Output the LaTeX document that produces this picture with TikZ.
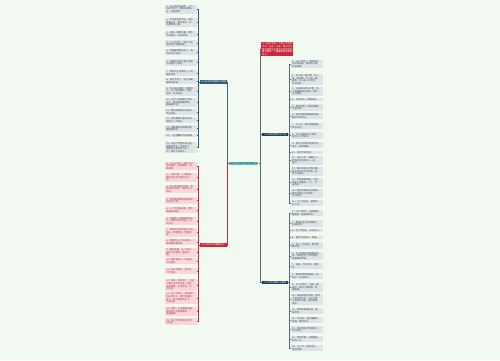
\documentclass[tikz,border=0pt]{standalone}
\usepackage{fontspec}
\newfontfamily\cjk{Noto Sans CJK SC}
\XeTeXlinebreaklocale "zh"
\XeTeXlinebreakskip=0pt plus 1pt
\newcommand\tinycjk{\cjk\fontsize{2.3}{2.6}\selectfont}
\definecolor{bg}{HTML}{F1F9F1}
\definecolor{leafgray}{HTML}{DCE4E8}
\definecolor{leaftext}{HTML}{3E4A54}
\definecolor{leafpink}{HTML}{F8D6DA}
\definecolor{pinktext}{HTML}{A23A44}
\definecolor{teal}{HTML}{5CC6C8}
\definecolor{darkblue}{HTML}{2D5C78}
\definecolor{navy}{HTML}{1E3A55}
\definecolor{redc}{HTML}{C9283A}
\definecolor{grayline}{HTML}{5E6A74}
\tikzset{
  leafbase/.style={inner xsep=1pt, inner ysep=0.8pt, text width=29.5pt, align=left, font=\tinycjk},
  leafA/.style={leafbase, fill=leafgray, text=leaftext, anchor=east},
  leafB/.style={leafbase, fill=leafpink, text=pinktext, anchor=east},
  leafC/.style={leafbase, fill=leafgray, text=leaftext, anchor=west},
  branch/.style={inner xsep=1pt, inner ysep=0.9pt, font=\tinycjk, text=white, minimum width=26pt},
  lnA/.style={draw=darkblue, line width=0.7pt},
  lnB/.style={draw=redc, line width=0.7pt},
  lnR/.style={draw=grayline, line width=0.7pt},
  lnU/.style={draw=darkblue!70!gray, line width=0.7pt},
}
\begin{document}
\begin{tikzpicture}[x=1pt,y=-1pt]
\fill[bg] (0,0) rectangle (500,360);
\useasboundingbox (0,0) rectangle (500,360);

% centre and branches
\node[branch, fill=teal, text=black!80, minimum width=29pt] (C) at (243.5,163.5) {关于三八妇女节的优美句子};
\node[branch, fill=darkblue, minimum width=27pt] (LA) at (213.5,82) {三八妇女节祝福句子精选};
\node[branch, fill=redc, minimum width=27pt] (LB) at (213.5,245) {三八妇女节祝福语句子};
\node[branch, fill=navy] (RB) at (275,134.5) {三八节的经典句子大全};
\node[branch, fill=navy] (RD) at (275,282.5) {三八节的温馨句子精选};
\node[leafbase, fill=redc, text=white, text width=30pt, anchor=north west] (RT) at (261,42)
  {三八妇女节是一个属于女性的节日，在这一天里，我们可以用优美的句子表达对女性的祝福与敬意，下面是整理的相关句子。};

% left group A
\node[leafA] (a1) at (197,9) {1、女人如花花似梦，三八\\妇女节到了，愿你美丽如\\花，幸福如梦。};
\node[leafA] (a2) at (197,22.5) {2、今天是你的节日，祝你\\青春永驻，笑口常开，天\\天都有好心情。};
\node[leafA] (a3) at (197,34) {3、送你一束康乃馨，愿你\\节日快乐，永远年轻。};
\node[leafA] (a4) at (197,43.5) {4、三八节到了，愿天下所\\有的女性幸福安康。};
\node[leafA] (a5) at (197,52) {5、你是最美丽的女人，祝\\你妇女节快乐！};
\node[leafA] (a6) at (197,62.5) {6、祝福你在这个属于你的\\节日里开心快乐。};
\node[leafA] (a7) at (197,73) {7、愿你的生活像花儿一样\\美丽芬芳。};
\node[leafA] (a8) at (197,81) {8、妇女节到了，送上我最\\真挚的祝福。};
\node[leafA] (a9) at (197,91) {9、女人是水做的，温柔似\\水；女人是花做的，美丽\\如花，节日快乐。};
\node[leafA] (a10) at (197,102.5) {10、三月八日是属于你的\\日子，愿你越来越漂亮，\\越来越年轻。};
\node[leafA] (a11) at (197,112) {11、愿你的笑容永远灿烂，\\节日快乐。};
\node[leafA] (a12) at (197,120) {12、你的美丽让春天失色，\\祝你三八节快乐。};
\node[leafA] (a13) at (197,128.5) {13、把最美好的祝福送给\\最美丽的你。};
\node[leafA] (a14) at (197,135.5) {14、一些温馨的节日祝福。};
\node[leafA] (a15) at (197,147.5) {15、在这个特别的日子里，\\我要对你说：你辛苦了，\\谢谢你为家庭付出的一\\切，祝你节日快乐。};

% left group B
\node[leafB] (b1) at (197,166) {1、三八妇女节，祝你永远\\年轻漂亮，身体健康，万\\事如意。};
\node[leafB] (b2) at (197,177.5) {2、一声问候，一份祝福，\\愿你在妇女节里快乐无\\比。};
\node[leafB] (b3) at (197,189) {3、女人是家庭的太阳，是\\社会的半边天，祝你节日\\快乐。};
\node[leafB] (b4) at (197,200.5) {4、愿你拥有美丽的容颜和\\快乐的心情。};
\node[leafB] (b5) at (197,210) {5、三八节里送祝福，愿你\\幸福永相随。};
\node[leafB] (b6) at (197,221) {6、你是我心中最美丽的女\\人，祝你妇女节快乐，天\\天开心。};
\node[leafB] (b7) at (197,232.5) {7、愿所有的女性朋友节日\\快乐，青春常在，笑容常\\开。};
\node[leafB] (b8) at (197,242) {8、美丽的女人节日快乐，\\愿你越活越年轻。};
\node[leafB] (b9) at (197,252.5) {9、春风送暖，三八节到，\\祝你工作顺利，家庭幸\\福。};
\node[leafB] (b10) at (197,261) {10、愿你像花儿一样绽放，\\节日快乐。};
\node[leafB] (b11) at (197,271) {11、今天你最大，祝你三\\八节快乐。};
\node[leafB] (b12) at (197,285) {12、妈妈，您辛苦了，在这\\个属于您的节日里，祝您\\身体健康，永远年轻，天\\天快乐。};
\node[leafB] (b13) at (197,298) {13、女人节到了，愿你做个\\快乐的女人，做个幸福的\\女人，做个美丽的女人，\\节日快乐。};
\node[leafB] (b14) at (197,311.5) {14、送你一份温馨的祝福，\\愿你的生活甜甜蜜蜜，\\幸福美满。};
\node[leafB] (b15) at (197,321.5) {15、祝天下所有的女性节\\日快乐。};

% right group C
\node[leafC] (c1) at (291,64) {1、三八节到了，愿你的生\\活如诗如画，愿你的心情\\如花绽放。};
\node[leafC] (c2) at (291,79.5) {2、女人是一道风景，女人\\是一首诗歌，女人是一幅\\画卷，女人是一片天空，\\节日快乐。};
\node[leafC] (c3) at (291,91.5) {3、在这美好的日子里，送\\上我最真诚的祝福，祝你\\永远美丽。};
\node[leafC] (c4) at (291,99.5) {4、节日快乐，青春永驻。};
\node[leafC] (c5) at (291,107.5) {5、愿你的每一天都充满阳\\光和欢笑。};
\node[leafC] (c6) at (291,116) {6、你的温柔是最美的风景\\祝你节日快乐。};
\node[leafC] (c7) at (291,126) {7、三八节，愿你健康美丽\\快乐永远。};
\node[leafC] (c8) at (291,135.5) {8、女人的美丽在于自信，\\祝你三八节快乐。};
\node[leafC] (c9) at (291,145) {9、愿天下所有的母亲节日\\快乐，身体健康。};
\node[leafC] (c10) at (291,152.5) {10、祝你节日快乐！};
\node[leafC] (c11) at (291,160.5) {11、花开三月，情暖三八，\\愿你的生活像花儿一样\\灿烂。};
\node[leafC] (c12) at (291,171.5) {12、春天的阳光为你闪耀，\\春天的花朵为你开放，祝\\你节日快乐。};
\node[leafC] (c13) at (291,182.5) {13、你用温柔撑起一个家，\\用爱心温暖每一个人，节\\日快乐。};
\node[leafC] (c14) at (291,193.5) {14、愿你的美丽与日俱增，\\愿你的快乐天天相伴，\\节日快乐。};
\node[leafC] (c15) at (291,203) {15、三八节快乐，美丽的\\女人们。};

% right group D
\node[leafC] (d1) at (291,213) {1、三八节到了，祝你越来\\越美丽，越来越年轻。};
\node[leafC] (d2) at (291,223.5) {2、愿你的生活充满阳光，\\充满欢笑。};
\node[leafC] (d3) at (291,230.5) {3、女人节快乐，天天开心。};
\node[leafC] (d4) at (291,237.5) {4、祝你节日快乐，幸福。};
\node[leafC] (d5) at (291,245.5) {5、送上一份祝福，愿你健\\康平安。};
\node[leafC] (d6) at (291,256) {6、女人是春天里最美的花\\朵，愿你在这个节日里绽\\放最美的笑容。};
\node[leafC] (d7) at (291,266) {7、妈妈，节日快乐，我爱\\您。};
\node[leafC] (d8) at (291,276) {8、愿你的笑容像春花一样\\灿烂，节日快乐。};
\node[leafC] (d9) at (291,287.5) {9、三八节到了，送你一缕\\春风，愿你心情舒畅，幸\\福美满。};
\node[leafC] (d10) at (291,299.5) {10、你是家里的太阳，照亮\\了我们的生活，在这个属\\于你的节日里，祝你健康\\快乐。};
\node[leafC] (d11) at (291,311) {11、愿你的青春永驻，美\\丽常在。};
\node[leafC] (d12) at (291,320) {12、节日里，送你温馨的\\祝福，愿你快乐。};
\node[leafC] (d13) at (291,329.5) {13、祝所有的女性朋友们\\节日快乐。};
\node[leafC] (d14) at (291,339) {14、愿你的每一天都是美\\好的一天。};
\node[leafC] (d15) at (291,348) {15、三八节，祝你快乐，\\祝你幸福。};

% connectors
\draw[lnU] (C.west) -- ++(-1,0) |- (LA.east);
\draw[lnB] (C.west) -- ++(-1,0) |- (LB.east);
\draw[lnR] (C.east) -- ++(2,0) |- (RT.west);
\draw[lnR] (C.east) -- ++(2,0) |- (RB.west);
\draw[lnR] (C.east) -- ++(2,0) |- (RD.west);
\foreach \i in {1,...,15} {
  \draw[lnA] (LA.west) -- ++(-1.5,0) |- (a\i.east);
  \draw[lnB] (LB.west) -- ++(-1.5,0) |- (b\i.east);
  \draw[lnR] (RB.east) -- ++(1.5,0) |- (c\i.west);
  \draw[lnR] (RD.east) -- ++(1.5,0) |- (d\i.west);
}
\end{tikzpicture}
\end{document}
